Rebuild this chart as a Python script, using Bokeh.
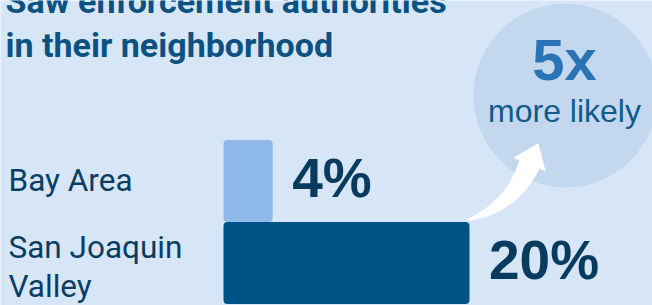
import numpy as np
from bokeh.plotting import figure
from bokeh.models import Range1d
from bokeh.core.properties import value
from bokeh.embed import file_html
from bokeh.resources import INLINE

# ---- data ----
title_lines = ["Saw enforcement authorities", "in their neighborhood"]
categories = ["Bay Area", "San Joaquin\nValley"]
values = [4, 20]
value_labels = ["4%", "20%"]
ratio_label = "5x"
ratio_caption = "more likely"

# ---- styles ----
BG = "#d6e6f7"
CIRCLE = "#c3d8ee"
BAR_COLORS = ["#8fb9e8", "#005386"]
TITLE_C = "#0b5282"
LABEL_C = "#0a3d62"
VALUE_C = "#083b5e"
RATIO_C = "#2a74b5"
CAPTION_C = "#105a8c"

W, H = 652, 305
ORIGIN = 0            # canvas origin in reference pixels
PX_PER_PCT = 12.3     # horizontal scale
X0_PX = 223           # bar baseline
BAND_PX = 82          # category band height
BAND0_CENTER = 180.5  # centre of first band
BASE_K = 0.36         # baseline correction (fraction of font size), Roboto
BASE_K2 = 0.39        # baseline correction, Liberation Sans


def px2x(px):
    return (px - X0_PX) / PX_PER_PCT


def px2y(py):
    return (py - BAND0_CENTER) / BAND_PX


p = figure(width=W, height=H,
           x_range=Range1d(px2x(ORIGIN), px2x(ORIGIN + W)),
           y_range=Range1d(px2y(ORIGIN + H), px2y(ORIGIN)),
           output_backend="svg", toolbar_location=None,
           x_axis_location=None, y_axis_location=None,
           min_border=0, background_fill_color=BG, border_fill_color=BG,
           outline_line_color=None)
p.grid.visible = False

idx = list(range(len(categories)))

# ---- circle callout ----
cx_px, cy_px, r_px = 565, 95, 92
p.scatter(x=[px2x(cx_px)], y=[px2y(cy_px)], size=2 * r_px, marker="circle",
          fill_color=CIRCLE, line_color=None)

# ---- curved arrow from the larger bar towards the circle ----
P0 = np.array([X0_PX + values[1] * PX_PER_PCT - 3, BAND0_CENTER + BAND_PX / 2 - 1.5])
P1 = np.array([511.0, 207.0])
P2 = np.array([529.0, 164.0])
t = np.linspace(0, 1, 40)
pts = ((1 - t) ** 2)[:, None] * P0 + (2 * (1 - t) * t)[:, None] * P1 + (t ** 2)[:, None] * P2
d = (2 * (1 - t))[:, None] * (P1 - P0) + (2 * t)[:, None] * (P2 - P1)
d = d / np.linalg.norm(d, axis=1)[:, None]
nrm = np.stack([-d[:, 1], d[:, 0]], axis=1)
half_w = 11 * t ** 0.7
left = pts + nrm * half_w[:, None]
right = pts - nrm * half_w[:, None]
dend = d[-1]
nend = nrm[-1]
tip = P2 + dend * 23
hb1 = P2 + nend * 17.5
hb2 = P2 - nend * 17.5
poly = np.vstack([left, hb1[None, :], tip[None, :], hb2[None, :], right[::-1]])
p.patch(x=[px2x(v) for v in poly[:, 0]], y=[px2y(v) for v in poly[:, 1]],
        fill_color="white", line_color=None)

# ---- bars ----
p.hbar(y=idx, left=0, right=values, height=1.0, fill_color=BAR_COLORS,
       line_color=None, border_radius=4)

# ---- category labels ----
LAB_FS = 31.5
lab_x, lab_y, lab_t, lab_off = [], [], [], []
for i, c in enumerate(categories):
    lines = c.split("\n")
    n = len(lines)
    for j, ln in enumerate(lines):
        lab_x.append(px2x(8))
        lab_y.append(i)
        lab_t.append(ln)
        lab_off.append(10.5 + (j - (n - 1) / 2) * 39 + (n - 1) * 4.5 - BASE_K * LAB_FS)
p.text(x=lab_x, y=lab_y, text=lab_t, y_offset=lab_off,
       text_font=value("Roboto"), text_font_size=f"{LAB_FS}px", text_color=LABEL_C,
       text_align="left", text_baseline="alphabetic")

# ---- value labels ----
VAL_FS = 55
p.text(x=values, y=idx, text=value_labels, x_offset=19.5,
       y_offset=18.5 - BASE_K2 * VAL_FS,
       text_font=value("Liberation Sans"), text_font_style="bold",
       text_font_size=f"{VAL_FS}px", text_color=VALUE_C,
       text_align="left", text_baseline="alphabetic")

# ---- title ----
TIT_FS = 34
p.text(x=[px2x(5)] * 2, y=[px2y(13), px2y(57)], text=title_lines,
       y_offset=-BASE_K * TIT_FS,
       text_font=value("Roboto"), text_font_style="bold", text_font_size=f"{TIT_FS}px",
       text_color=TITLE_C, text_align="left", text_baseline="alphabetic")

# ---- circle texts ----
R_FS, C_FS = 58, 32
p.text(x=[px2x(cx_px - 1)], y=[px2y(cy_px)], text=[ratio_label],
       y_offset=-13 - BASE_K2 * R_FS,
       text_font=value("Liberation Sans"), text_font_style="bold",
       text_font_size=f"{R_FS}px", text_color=RATIO_C,
       text_align="center", text_baseline="alphabetic")
p.text(x=[px2x(cx_px - 1)], y=[px2y(cy_px)], text=[ratio_caption],
       y_offset=28 - BASE_K2 * C_FS,
       text_font=value("Liberation Sans"), text_font_size=f"{C_FS}px",
       text_color=CAPTION_C, text_align="center", text_baseline="alphabetic")

open("out.html", "w").write(file_html(p, INLINE))
